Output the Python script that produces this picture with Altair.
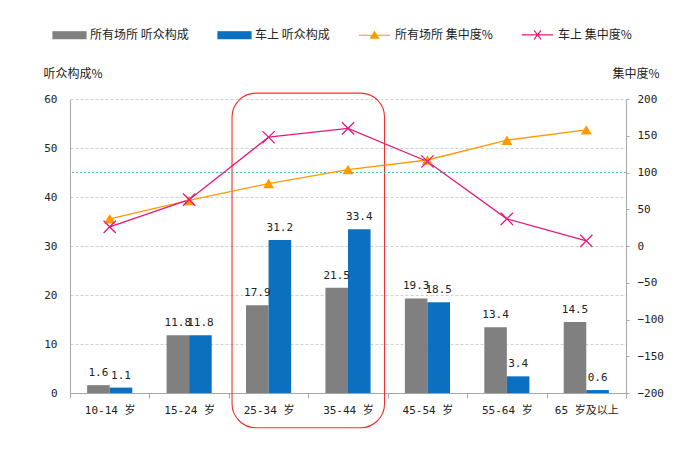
import altair as alt
import pandas as pd

# ---------------- data ----------------
cats = ["10-14 岁", "15-24 岁", "25-34 岁", "35-44 岁", "45-54 岁", "55-64 岁", "65 岁及以上"]
bar_names = ["所有场所 听众构成", "车上 听众构成"]
line_names = ["所有场所 集中度%", "车上 集中度%"]

all_share = [1.6, 11.8, 17.9, 21.5, 19.3, 13.4, 14.5]
car_share = [1.1, 11.8, 31.2, 33.4, 18.5, 3.4, 0.6]
all_conc = [37, 62, 85, 104, 117, 144, 158]
car_conc = [26, 63, 148, 160, 115, 37, 7]

left_ticks = [0, 10, 20, 30, 40, 50, 60]
right_ticks = [-200, -150, -100, -50, 0, 50, 100, 150, 200]
ref_value = [100]
box_cats = ["25-34 岁", "35-44 岁"]
box_range = [61.2, -7.1]

# ---------------- styles ----------------
GRAY = "#808080"
BLUE = "#0A70BF"
ORANGE = "#FF9900"
MAGENTA = "#E5187D"
AXIS = "#A6A6A6"
TXT = "#222222"
FONT_NUM = "DejaVu Sans Mono, Noto Sans CJK SC"
FONT_CJK = "Noto Sans CJK SC"
X_PATH = "M-1,-1L1,1M1,-1L-1,1"

bar_df = pd.DataFrame({
    "cat": cats * 2,
    "series": [bar_names[0]] * len(cats) + [bar_names[1]] * len(cats),
    "value": all_share + car_share,
})
line_df = pd.DataFrame({
    "cat": cats * 2,
    "series": [line_names[0]] * len(cats) + [line_names[1]] * len(cats),
    "value": all_conc + car_conc,
})
box_df = pd.DataFrame({"cat": [box_cats[0]], "cat2": [box_cats[1]],
                       "value": [box_range[0]], "value2": [box_range[1]]})
ref_df = pd.DataFrame({"value": ref_value})

x_scale = alt.Scale(domain=cats, paddingInner=0, paddingOuter=0)
x_axis = alt.Axis(title=None, labelAngle=0, tickBand="extent", ticks=True, tickSize=5,
                  tickColor=AXIS, domainColor=AXIS, labelFont=FONT_NUM, labelFontSize=11,
                  labelColor=TXT, labelPadding=6, grid=False)


def xenc(field="cat"):
    return alt.X(f"{field}:N", sort=cats, scale=x_scale, axis=x_axis)


left_axis = alt.Axis(values=left_ticks, title="听众构成%", titleAngle=0, titleX=-27, titleY=-26,
                     titleAlign="left", titleBaseline="middle", titleFont=FONT_CJK,
                     titleFontSize=12, titleFontWeight="normal", titleColor=TXT,
                     grid=True, gridDash=[3, 2], gridColor="#D0D0D0", ticks=False,
                     domainColor=AXIS, labelPadding=13, labelFont=FONT_NUM,
                     labelFontSize=11, labelColor=TXT)
right_axis = alt.Axis(values=right_ticks, orient="right", title="集中度%", titleAngle=0,
                      titleX=33, titleY=-26, titleAlign="right", titleBaseline="middle",
                      titleFont=FONT_CJK, titleFontSize=12, titleFontWeight="normal",
                      titleColor=TXT, grid=False, ticks=True, tickSize=3, tickColor=AXIS,
                      domainColor=AXIS, labelPadding=8, labelFont=FONT_NUM,
                      labelFontSize=11, labelColor=TXT)


def yleft():
    return alt.Y("value:Q", scale=alt.Scale(domain=[0, 60], nice=False, zero=False), axis=left_axis)


def yright():
    return alt.Y("value:Q", scale=alt.Scale(domain=[-200, 200], nice=False, zero=False), axis=right_axis)


xoff = alt.XOffset("series:N", sort=bar_names,
                   scale=alt.Scale(domain=bar_names, paddingInner=0, paddingOuter=0.76))

bars = alt.Chart(bar_df).mark_bar().encode(
    x=xenc(), xOffset=xoff, y=yleft(),
    color=alt.Color("series:N", scale=alt.Scale(domain=bar_names, range=[GRAY, BLUE]), legend=None),
)
bar_labels = alt.Chart(bar_df).mark_text(baseline="bottom", dy=-7, font=FONT_NUM, fontSize=11,
                                          color=TXT).encode(
    x=xenc(), xOffset=xoff, y=yleft(), text=alt.Text("value:Q", format=".1f"),
)
box = alt.Chart(box_df).mark_rect(cornerRadius=24, fillOpacity=0, stroke="#EE3030",
                                  strokeWidth=1.1).encode(
    x=alt.X("cat:N", sort=cats, scale=x_scale, axis=x_axis, bandPosition=0.04),
    x2=alt.X2("cat2", bandPosition=0.96),
    y=yleft(), y2=alt.Y2("value2"),
)
left = alt.layer(bars, bar_labels, box)

ref = alt.Chart(ref_df).mark_rule(color="#4FC1A8", strokeDash=[2, 2], strokeWidth=1).encode(y=yright())

line_o = alt.Chart(line_df).transform_filter(alt.datum.series == line_names[0]).mark_line(
    color=ORANGE, strokeWidth=1.3).encode(x=xenc(), y=yright())
pts_o = alt.Chart(line_df).transform_filter(alt.datum.series == line_names[0]).mark_point(
    shape="triangle-up", filled=True, size=120, color=ORANGE, opacity=1).encode(x=xenc(), y=yright())
line_m = alt.Chart(line_df).transform_filter(alt.datum.series == line_names[1]).mark_line(
    color=MAGENTA, strokeWidth=1.3).encode(x=xenc(), y=yright())
pts_m = alt.Chart(line_df).transform_filter(alt.datum.series == line_names[1]).mark_point(
    shape=X_PATH, filled=False, size=150, color=MAGENTA, strokeWidth=1.3, opacity=1).encode(
    x=xenc(), y=yright())

# legend (entries come from the explicit scale domains)
legend_names = bar_names + line_names
legend_colors = [GRAY, BLUE, ORANGE, MAGENTA]
legend_shapes = [
    "M-1,-0.21H1V0.21H-1Z",
    "M-1,-0.21H1V0.21H-1Z",
    "M-0.95,0H0.95M0,-0.2L0.24,0.17H-0.24Z",
    "M-0.95,0H0.95M-0.21,-0.27L0.21,0.27M0.21,-0.27L-0.21,0.27",
]
leg = alt.Legend(title=None, orient="none", legendX=-18, legendY=-82, direction="horizontal",
                 symbolSize=1089, symbolStrokeWidth=1.2, labelFont=FONT_CJK, labelFontSize=12,
                 labelColor=TXT, labelOffset=3, columnPadding=26)
legend_layer = alt.Chart(line_df).transform_filter("false").mark_point(opacity=1, strokeWidth=1.2).encode(
    fill=alt.Fill("series:N", sort=legend_names,
                  scale=alt.Scale(domain=legend_names, range=legend_colors), legend=leg),
    stroke=alt.Stroke("series:N", sort=legend_names,
                      scale=alt.Scale(domain=legend_names, range=legend_colors), legend=leg),
    shape=alt.Shape("series:N", sort=legend_names,
                    scale=alt.Scale(domain=legend_names, range=legend_shapes), legend=leg),
)

right = alt.layer(ref, line_o, line_m, pts_o, pts_m, legend_layer)

chart = alt.layer(left, right).resolve_scale(y="independent").properties(
    width=556, height=294,
    autosize=alt.AutoSizeParams(type="none"),
    padding={"left": 62, "top": 91, "right": 60, "bottom": 45},
    background="white",
).configure_view(stroke=None)

chart.save("out.html", embed_options={"renderer": "svg", "actions": False})
